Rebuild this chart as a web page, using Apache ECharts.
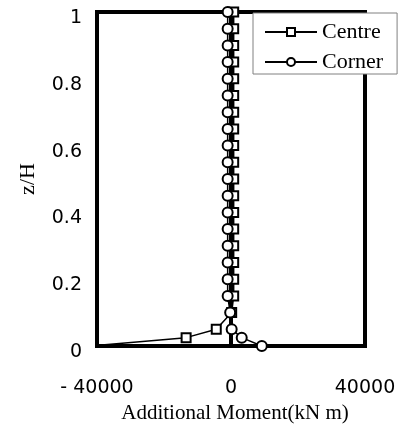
<!DOCTYPE html>
<html>
<head>
<meta charset="utf-8">
<script src="https://cdn.jsdelivr.net/npm/echarts@6/dist/echarts.min.js"></script>
<style>
  html, body { margin: 0; padding: 0; background: #fff; }
  #chart { width: 399px; height: 427px; }
</style>
</head>
<body>
<div id="chart"></div>
<script>
// Relative height levels z/H
const zLevels = [1, 0.95, 0.9, 0.85, 0.8, 0.75, 0.7, 0.65, 0.6, 0.55, 0.5,
                 0.45, 0.4, 0.35, 0.3, 0.25, 0.2, 0.15, 0.1, 0.05, 0.025, 0];

// Additional moment (kN m) at each level
const centreMoment = [800, 800, 800, 800, 800, 800, 800, 800, 800, 800, 800,
                      800, 800, 800, 800, 800, 800, 800, 200, -4400, -13400, -42000];
const cornerMoment = [-1000, -1000, -1000, -1000, -1000, -1000, -1000, -1000, -1000, -1000, -1000,
                      -1000, -1000, -1000, -1000, -1000, -1000, -1000, -250, 200, 3200, 9200];

const xTicks = [-40000, 0, 40000];
const seriesNames = ['Centre', 'Corner'];

const pairs = (xs) => xs.map((x, i) => [x, zLevels[i]]);

const chart = echarts.init(document.getElementById('chart'), null, { renderer: 'canvas' });

const sansFont = '"DejaVu Sans", sans-serif';
const serifFont = '"Liberation Serif", "Times New Roman", serif';

chart.setOption({
  animation: false,
  backgroundColor: '#fff',
  grid: {
    left: 97, right: 34, top: 12, bottom: 81,
    outerBoundsMode: 'none', containLabel: false,
    show: true, borderColor: '#000', borderWidth: 4, backgroundColor: 'transparent'
  },
  legend: {
    data: seriesNames.map(n => ({ name: n })),
    orient: 'vertical',
    left: 253, top: 13,
    itemWidth: 52, itemHeight: 10, itemGap: 8,
    padding: [8, 14, 1, 11],
    backgroundColor: '#fff',
    borderColor: '#808080', borderWidth: 1, borderRadius: 0,
    textStyle: { fontFamily: serifFont, fontSize: 22, color: '#000' },
    inactiveColor: '#000'
  },
  xAxis: {
    type: 'value',
    min: xTicks[0], max: xTicks[xTicks.length - 1], interval: 40000,
    name: 'Additional Moment(kN m)',
    nameLocation: 'middle', nameGap: 57,
    nameTextStyle: { fontFamily: serifFont, fontSize: 21, color: '#000', padding: [0, 0, 0, 8] },
    axisLine: { show: true, lineStyle: { color: '#000', width: 4 } },
    axisTick: { show: false },
    splitLine: { show: true, lineStyle: { color: '#000', width: 4 } },
    axisLabel: {
      margin: 33, fontFamily: sansFont, fontSize: 19, color: '#000',
      formatter: v => (v < 0 ? '- ' + Math.abs(v) : String(v))
    }
  },
  yAxis: {
    type: 'value',
    min: 0, max: 1, interval: 0.2,
    name: 'z/H',
    nameLocation: 'middle', nameGap: 58, nameRotate: 90,
    nameTextStyle: { fontFamily: serifFont, fontSize: 22, color: '#000' },
    axisLine: { show: true, lineStyle: { color: '#000', width: 4 } },
    axisTick: { show: false },
    splitLine: { show: false },
    axisLabel: {
      margin: 15, fontFamily: sansFont, fontSize: 19, color: '#000',
      verticalAlign: 'top', lineHeight: 12
    }
  },
  series: [
    {
      name: seriesNames[0],
      type: 'line',
      data: pairs(centreMoment),
      clip: true,
      symbol: 'rect', symbolSize: 9,
      lineStyle: { color: '#000', width: 1.5 },
      itemStyle: { color: '#fff', borderColor: '#000', borderWidth: 2 },
      z: 3
    },
    {
      name: seriesNames[1],
      type: 'line',
      data: pairs(cornerMoment),
      clip: true,
      symbol: 'circle', symbolSize: 10,
      lineStyle: { color: '#000', width: 1.5 },
      itemStyle: { color: '#fff', borderColor: '#000', borderWidth: 2 },
      z: 4
    }
  ]
});
</script>
</body>
</html>
